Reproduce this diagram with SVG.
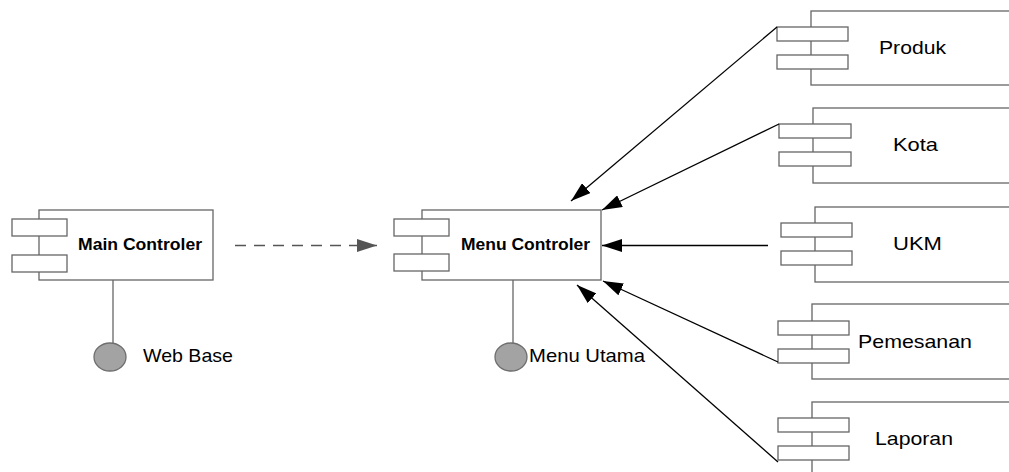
<svg xmlns="http://www.w3.org/2000/svg" width="1009" height="472" viewBox="0 0 1009 472">
<style>
.box{fill:#fff;stroke:#666;stroke-width:1.3}
.port{fill:#fff;stroke:#666;stroke-width:1.3}
.stem{stroke:#666;stroke-width:1.3;fill:none}
.iface{fill:#a3a3a3;stroke:#6e6e6e;stroke-width:1.3}
.b{font-family:"Liberation Sans",Arial,sans-serif;font-weight:bold;font-size:17px;fill:#000}
.t{font-family:"Liberation Sans",Arial,sans-serif;font-size:19px;fill:#000}
.dep{stroke:#555;stroke-width:1.5;stroke-dasharray:11 8;fill:none}
.use{stroke:#000;stroke-width:1.3;fill:none}
</style>
<defs>
<marker id="ah" markerUnits="userSpaceOnUse" markerWidth="21" markerHeight="13" refX="20" refY="6.5" orient="auto">
<path d="M0,0 L20,6.5 L0,13 z" fill="#000"/>
</marker>
<marker id="ahg" markerUnits="userSpaceOnUse" markerWidth="21" markerHeight="13" refX="20" refY="6.5" orient="auto">
<path d="M0,0 L20,6.5 L0,13 z" fill="#555"/>
</marker>
</defs>
<rect width="1009" height="472" fill="#fff"/>

<g id="main-controler">
<rect class="box" x="39" y="210" width="174" height="70"/>
<rect class="port" x="12" y="219" width="55" height="17"/>
<rect class="port" x="12" y="255" width="55" height="17"/>
<text class="b" x="78" y="250" textLength="124" lengthAdjust="spacingAndGlyphs">Main Controler</text>
</g>

<g id="web-base">
<line class="stem" x1="113" y1="280" x2="113" y2="343"/>
<ellipse class="iface" cx="110" cy="357" rx="16" ry="14"/>
<text class="t" x="143" y="362" textLength="90" lengthAdjust="spacingAndGlyphs">Web Base</text>
</g>

<g id="menu-controler">
<rect class="box" x="422" y="210" width="179" height="70"/>
<rect class="port" x="394" y="219" width="55" height="17"/>
<rect class="port" x="394" y="254" width="55" height="17"/>
<text class="b" x="461" y="250" textLength="129" lengthAdjust="spacingAndGlyphs">Menu Controler</text>
</g>

<g id="menu-utama">
<line class="stem" x1="513" y1="280" x2="513" y2="343"/>
<ellipse class="iface" cx="511" cy="357" rx="16" ry="14"/>
<text class="t" x="529" y="362" textLength="116" lengthAdjust="spacingAndGlyphs">Menu Utama</text>
</g>

<g id="produk">
<rect class="box" x="811" y="11" width="230" height="74"/>
<rect class="port" x="777" y="27" width="71" height="14"/>
<rect class="port" x="777" y="55" width="71" height="14"/>
<text class="t" x="879" y="54" textLength="67" lengthAdjust="spacingAndGlyphs">Produk</text>
</g>

<g id="kota">
<rect class="box" x="813" y="108" width="230" height="75"/>
<rect class="port" x="779" y="124" width="72" height="14"/>
<rect class="port" x="779" y="152" width="72" height="14"/>
<text class="t" x="893" y="151" textLength="45" lengthAdjust="spacingAndGlyphs">Kota</text>
</g>

<g id="ukm">
<rect class="box" x="815" y="207" width="230" height="75"/>
<rect class="port" x="781" y="223" width="71" height="14"/>
<rect class="port" x="781" y="251" width="71" height="14"/>
<text class="t" x="893" y="250" textLength="49" lengthAdjust="spacingAndGlyphs">UKM</text>
</g>

<g id="pemesanan">
<rect class="box" x="812" y="304" width="230" height="75"/>
<rect class="port" x="778" y="321" width="71" height="14"/>
<rect class="port" x="778" y="349" width="71" height="14"/>
<text class="t" x="858" y="348" textLength="114" lengthAdjust="spacingAndGlyphs">Pemesanan</text>
</g>

<g id="laporan">
<rect class="box" x="812" y="402" width="230" height="100"/>
<rect class="port" x="778" y="418" width="71" height="14"/>
<rect class="port" x="778" y="446" width="71" height="14"/>
<text class="t" x="875" y="445" textLength="78" lengthAdjust="spacingAndGlyphs">Laporan</text>
</g>

<g id="connectors">
<line class="dep" x1="235" y1="245.5" x2="377" y2="245.5" marker-end="url(#ahg)"/>
<line class="use" x1="777" y1="27" x2="571" y2="201" marker-end="url(#ah)"/>
<line class="use" x1="779" y1="124" x2="602" y2="210" marker-end="url(#ah)"/>
<line class="use" x1="768" y1="245.5" x2="602" y2="245.5" marker-end="url(#ah)"/>
<line class="use" x1="778" y1="362" x2="603" y2="281" marker-end="url(#ah)"/>
<line class="use" x1="778" y1="462" x2="577" y2="285" marker-end="url(#ah)"/>
</g>
</svg>
